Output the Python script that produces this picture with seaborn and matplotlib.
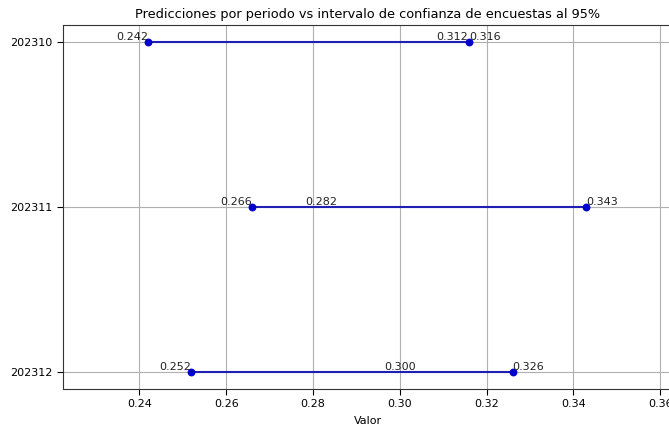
import matplotlib
matplotlib.use("Agg")
import matplotlib.pyplot as plt
import pandas as pd
import seaborn as sns

# Survey confidence intervals (95%) and model prediction per period
periodos = ["202310", "202311", "202312"]
limite_inferior = [0.242, 0.266, 0.252]
prediccion = [0.312, 0.282, 0.300]
limite_superior = [0.316, 0.343, 0.326]

plt.rcParams["font.family"] = ["DejaVu Sans"]

# Long format: one row per interval endpoint
intervalos = pd.DataFrame({
    "periodo": periodos * 2,
    "valor": limite_inferior + limite_superior,
    "extremo": ["inf"] * len(periodos) + ["sup"] * len(periodos),
})

fig = plt.figure(figsize=(6.69, 4.26), dpi=100)
ax = fig.add_axes([0.0942, 0.0869, 0.92, 0.854])

sns.lineplot(
    data=intervalos, x="valor", y="periodo", units="periodo",
    estimator=None, sort=False, color="#1f1fb4", linewidth=1.5,
    ax=ax, legend=False,
)
sns.scatterplot(
    data=intervalos, x="valor", y="periodo", color="#0000cc",
    s=32, edgecolor="#0000cc", linewidth=0, zorder=3, ax=ax, legend=False,
)

# first period on top
if not ax.yaxis_inverted():
    ax.invert_yaxis()
ax.set_xlim(0.2224, 0.3642)
ax.grid(True, color="#b0b0b0", linewidth=0.8)
ax.set_axisbelow(True)

fs = 8
for p, lo, pr, hi in zip(periodos, limite_inferior, prediccion, limite_superior):
    ax.text(lo, p, f"{lo:.3f}", ha="right", va="bottom", fontsize=fs, color="#222222")
    ax.text(pr, p, f"{pr:.3f}", ha="center", va="bottom", fontsize=fs, color="#222222")
    ax.text(hi, p, f"{hi:.3f}", ha="left", va="bottom", fontsize=fs, color="#222222")

ax.set_title("Predicciones por periodo vs intervalo de confianza de encuestas al 95%",
             fontsize=9.3, pad=5, x=0.495)
ax.set_xlabel("Valor", fontsize=fs, labelpad=3)
ax.xaxis.set_label_coords(0.495, -0.075)
ax.set_ylabel("")
ax.tick_params(labelsize=fs, length=4)
for s in ax.spines.values():
    s.set_color("#333333")

fig.savefig("out.png", dpi=100)
